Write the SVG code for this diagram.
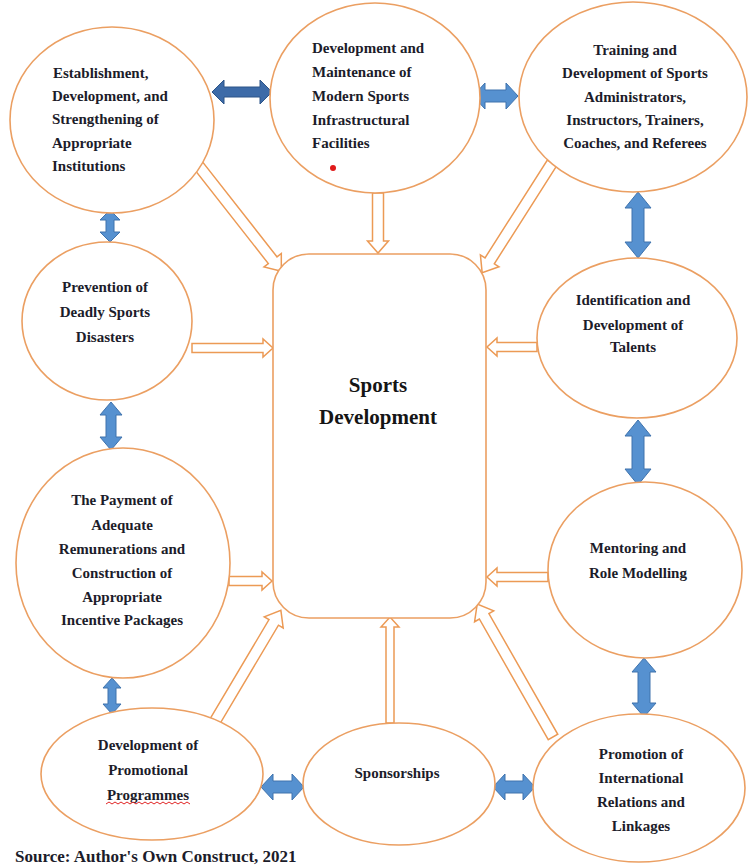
<svg xmlns="http://www.w3.org/2000/svg" width="749" height="867" viewBox="0 0 749 867">
<style>
.node{fill:#fff;stroke:#eb9f62;stroke-width:1.6}
.oa{fill:#fff;stroke:#ec9a55;stroke-width:1.5;stroke-linejoin:miter}
.ba{fill:#5691d0;stroke:#3f73ad;stroke-width:1}
.bad{fill:#3d6ba8;stroke:#2c5488;stroke-width:1}
.t{font-family:"Liberation Serif","Times New Roman",serif;font-weight:bold;font-size:15px;fill:#1c1c2a}
.c{text-anchor:middle}
.main{font-family:"Liberation Serif","Times New Roman",serif;font-weight:bold;font-size:21px;fill:#151515;text-anchor:middle}
</style>
<rect width="749" height="867" fill="#fff"/>
<g id="connectors">
<path class="oa" d="M0,-5.5 H121 V-11 L135,0 L121,11 V5.5 H0 Z" transform="translate(198,165) rotate(51.9)"/>
<path class="oa" d="M0,-5.5 H48 V-10.5 L60,0 L48,10.5 V5.5 H0 Z" transform="translate(378,193) rotate(90)"/>
<path class="oa" d="M0,-5.5 H116 V-11 L130,0 L116,11 V5.5 H0 Z" transform="translate(552,163) rotate(122.5)"/>
<path class="oa" d="M0,-4.5 H71 V-9 L81,0 L71,9 V4.5 H0 Z" transform="translate(192,348)"/>
<path class="oa" d="M0,-4.5 H40 V-9 L50,0 L40,9 V4.5 H0 Z" transform="translate(537,347) rotate(180)"/>
<path class="oa" d="M0,-4.5 H33 V-9 L43,0 L33,9 V4.5 H0 Z" transform="translate(229,581)"/>
<path class="oa" d="M0,-4.5 H51 V-9 L61,0 L51,9 V4.5 H0 Z" transform="translate(548,577) rotate(180)"/>
<path class="oa" d="M0,-5.5 H117 V-11 L131,0 L117,11 V5.5 H0 Z" transform="translate(214,723) rotate(-59.3)"/>
<path class="oa" d="M0,-4 H96 V-9 L106,0 L96,9 V4 H0 Z" transform="translate(390,723) rotate(-90)"/>
<path class="oa" d="M0,-5.5 H139 V-11 L153,0 L139,11 V5.5 H0 Z" transform="translate(553,737) rotate(-119.7)"/>
<path class="bad" d="M0,0 L12,-12 V-5 H48 V-12 L60,0 L48,12 V5 H12 V12 Z" transform="translate(212,92)"/>
<path class="ba" d="M0,0 L12,-13 V-6 H33 V-13 L45,0 L33,13 V6 H12 V13 Z" transform="translate(473,96)"/>
<path class="ba" d="M0,0 L10,-10 V-4 H22 V-10 L32,0 L22,10 V4 H10 V10 Z" transform="translate(110,210) rotate(90)"/>
<path class="ba" d="M0,0 L13,-11 V-5 H35 V-11 L48,0 L35,11 V5 H13 V11 Z" transform="translate(111,402) rotate(90)"/>
<path class="ba" d="M0,0 L10,-9 V-4 H26 V-9 L36,0 L26,9 V4 H10 V9 Z" transform="translate(112,678) rotate(90)"/>
<path class="ba" d="M0,0 L16,-13 V-6 H50 V-13 L66,0 L50,13 V6 H16 V13 Z" transform="translate(638,192) rotate(90)"/>
<path class="ba" d="M0,0 L16,-13 V-6 H49 V-13 L65,0 L49,13 V6 H16 V13 Z" transform="translate(638,420) rotate(90)"/>
<path class="ba" d="M0,0 L14,-12 V-6 H45 V-12 L59,0 L45,12 V6 H14 V12 Z" transform="translate(644,658) rotate(90)"/>
<path class="ba" d="M0,0 L12,-13 V-6 H31 V-13 L43,0 L31,13 V6 H12 V13 Z" transform="translate(261,787)"/>
<path class="ba" d="M0,0 L12,-13 V-6 H30 V-13 L42,0 L30,13 V6 H12 V13 Z" transform="translate(493,787)"/>
</g>
<g id="center">
<rect class="node" x="273" y="254" width="213" height="364" rx="36"/>
<text class="main" x="378" y="392">Sports</text>
<text class="main" x="378" y="424">Development</text>
</g>
<g id="n-establishment">
<ellipse class="node" cx="112" cy="120" rx="102" ry="93"/>
<text class="t"><tspan x="53" y="78">Establishment,</tspan><tspan x="52" y="101">Development, and</tspan><tspan x="52" y="124">Strengthening of</tspan><tspan x="52" y="148">Appropriate</tspan><tspan x="52" y="171">Institutions</tspan></text>
</g>
<g id="n-infrastructure">
<ellipse class="node" cx="375" cy="98" rx="105" ry="95"/>
<text class="t"><tspan x="312" y="53">Development and</tspan><tspan x="312" y="77">Maintenance of</tspan><tspan x="312" y="101">Modern Sports</tspan><tspan x="312" y="125">Infrastructural</tspan><tspan x="312" y="148">Facilities</tspan></text>
<circle cx="333" cy="168" r="3" fill="#e01a1a"/>
</g>
<g id="n-training">
<ellipse class="node" cx="633" cy="97" rx="114" ry="95"/>
<text class="t c"><tspan x="635" y="55">Training and</tspan><tspan x="635" y="78">Development of Sports</tspan><tspan x="635" y="102">Administrators,</tspan><tspan x="635" y="125">Instructors, Trainers,</tspan><tspan x="635" y="148">Coaches, and Referees</tspan></text>
</g>
<g id="n-prevention">
<ellipse class="node" cx="107" cy="321" rx="85" ry="79"/>
<text class="t c"><tspan x="105" y="292">Prevention of</tspan><tspan x="105" y="317">Deadly Sports</tspan><tspan x="105" y="342">Disasters</tspan></text>
</g>
<g id="n-identification">
<ellipse class="node" cx="637" cy="338" rx="100" ry="80"/>
<text class="t c"><tspan x="633" y="305">Identification and</tspan><tspan x="633" y="330">Development of</tspan><tspan x="633" y="352">Talents</tspan></text>
</g>
<g id="n-payment">
<ellipse class="node" cx="123" cy="563" rx="107" ry="115"/>
<text class="t c"><tspan x="122" y="505">The Payment of</tspan><tspan x="122" y="530">Adequate</tspan><tspan x="122" y="554">Remunerations and</tspan><tspan x="122" y="578">Construction of</tspan><tspan x="122" y="602">Appropriate</tspan><tspan x="122" y="625">Incentive Packages</tspan></text>
</g>
<g id="n-mentoring">
<ellipse class="node" cx="645" cy="570" rx="97" ry="88"/>
<text class="t c"><tspan x="638" y="553">Mentoring and</tspan><tspan x="638" y="578">Role Modelling</tspan></text>
</g>
<g id="n-promotional">
<ellipse class="node" cx="152" cy="774" rx="111" ry="66"/>
<text class="t c"><tspan x="148" y="750">Development of</tspan><tspan x="148" y="775">Promotional</tspan><tspan x="148" y="800">Programmes</tspan></text>
<path d="M106,804 l3,-2 l3,2 l3,-2 l3,2 l3,-2 l3,2 l3,-2 l3,2 l3,-2 l3,2 l3,-2 l3,2 l3,-2 l3,2 l3,-2 l3,2 l3,-2 l3,2 l3,-2 l3,2 l3,-2 l3,2 l3,-2 l3,2 l3,-2 l3,2 l3,-2 l3,2" fill="none" stroke="#e02424" stroke-width="1"/>
</g>
<g id="n-sponsorships">
<ellipse class="node" cx="399" cy="784" rx="96" ry="61"/>
<text class="t c" x="397" y="778">Sponsorships</text>
</g>
<g id="n-international">
<ellipse class="node" cx="639" cy="788" rx="106" ry="74"/>
<text class="t c"><tspan x="641" y="759">Promotion of</tspan><tspan x="641" y="783">International</tspan><tspan x="641" y="807">Relations and</tspan><tspan x="641" y="831">Linkages</tspan></text>
</g>
<text class="t" x="15" y="862" style="font-size:17px">Source: Author's Own Construct, 2021</text>
</svg>
